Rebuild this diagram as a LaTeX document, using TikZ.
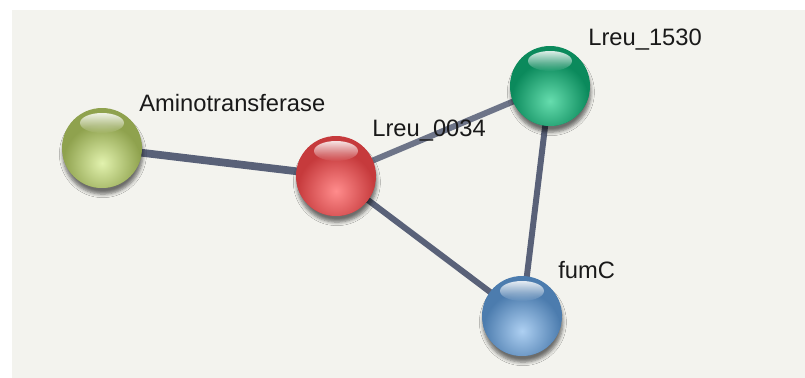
\documentclass[tikz,border=0pt]{standalone}
\usepackage{fontspec}
\setmainfont{Liberation Sans}
\usetikzlibrary{positioning, backgrounds, fadings, shadows.blur}

\definecolor{panelbg}{HTML}{F3F3EE}
\definecolor{edgecol}{HTML}{596178}
\definecolor{oliveD}{HTML}{8FA24E}
\definecolor{oliveL}{HTML}{E2F2AE}
\definecolor{redD}{HTML}{C63A3C}
\definecolor{redL}{HTML}{FF8C8C}
\definecolor{tealD}{HTML}{0B8A5C}
\definecolor{tealL}{HTML}{66DDAE}
\definecolor{blueD}{HTML}{4C7CAE}
\definecolor{blueL}{HTML}{AED0F2}

\begin{document}
\begin{tikzpicture}[
    x=0.02cm, y=-0.02cm,
    every node/.style={font=\fontsize{13.5}{16}\selectfont},
    prot/.style={circle, minimum size=1.6cm, inner sep=0pt,
                 blur shadow={shadow xshift=0.5pt, shadow yshift=-3.5pt,
                              shadow blur radius=2pt,
                              shadow opacity=55, shadow blur steps=5},
                 path picture={
                   \fill[#1D] (path picture bounding box.south west)
                              rectangle (path picture bounding box.north east);
                   \shade[inner color=#1L, outer color=#1D]
                     ([yshift=-0.3cm]path picture bounding box.center) circle (0.78cm);
                   \fill[white, path fading=south, fill opacity=0.85]
                     ([yshift=-0.3cm]path picture bounding box.north) ellipse (0.44cm and 0.2cm);
                 }},
    lbl/.style={anchor=west, inner sep=0pt, text=black!90},
    link/.style={draw=edgecol, line width=3.4pt},
]
\useasboundingbox (0,0) rectangle (805,378);

%% --- proteins ---
\node[prot=olive] (amino) at (102,148) {};
\node[prot=red]   (l0034) at (336,176) {};
\node[prot=teal]  (l1530) at (550,86)  {};
\node[prot=blue]  (fumc)  at (522,316) {};

%% --- names ---
\node[lbl] (amino-lbl) at (139,103) {Aminotransferase};
\node[lbl] (l0034-lbl) at (372,131) {Lreu\_0034};
\node[lbl] (l1530-lbl) at (588,40)  {Lreu\_1530};
\node[lbl] (fumc-lbl)  at (558,270) {fumC};

%% --- links, behind the balls ---
\begin{scope}[on background layer]
  \fill[white] (0,0) rectangle (805,378);
  \fill[panelbg] (12,10) rectangle (805,378);
  \draw[link, line width=4.4pt] (amino.center) -- (l0034.center);
  \draw[link, draw=edgecol!88] (l0034.center) -- (l1530.center);
  \draw[link] (l0034.center) -- (fumc.center);
  \draw[link] (l1530.center) -- (fumc.center);
\end{scope}

\end{tikzpicture}
\end{document}
